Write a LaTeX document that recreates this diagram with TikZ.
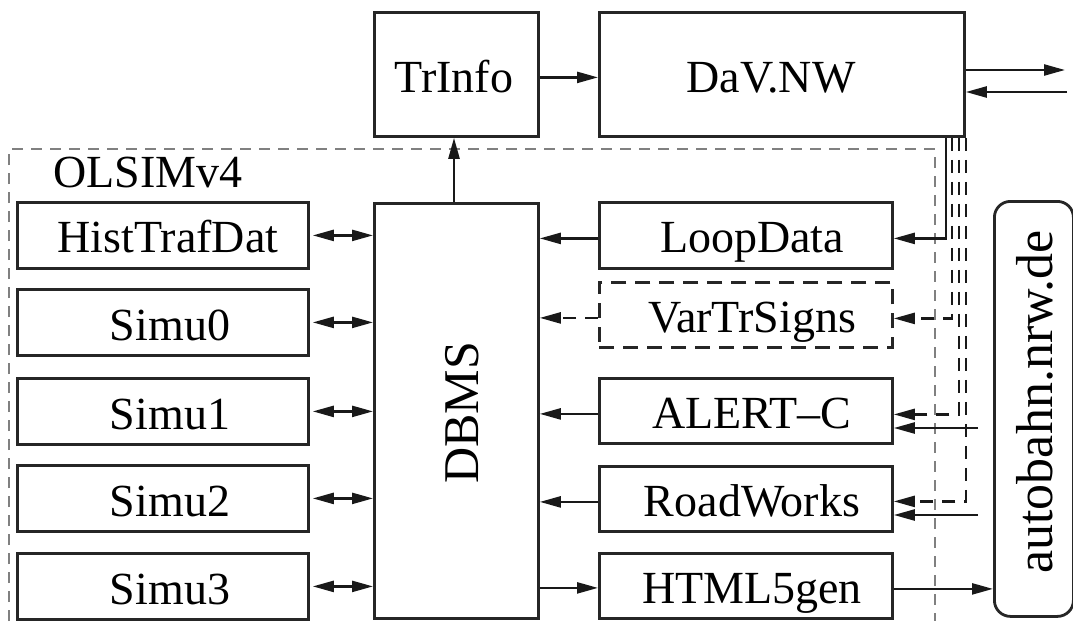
\documentclass[tikz,border=0pt]{standalone}
\usepackage{fontspec}
\setmainfont{Liberation Serif}
\usetikzlibrary{arrows.meta}
\begin{document}
\begin{tikzpicture}[x=1pt,y=-1pt,
  box/.style={draw=black!85, line width=2.8pt, inner sep=0pt, anchor=north west},
  txt/.style={inner sep=0pt, anchor=base, font=\fontsize{46}{50}\selectfont},
  tip/.tip={Triangle[length=21pt,width=11pt]},
  arr/.style={line width=2.4pt, draw=black!90, -tip},
  darr/.style={line width=2.4pt, draw=black!90, tip-tip},
  dline/.style={dash pattern=on 13pt off 9pt},
  frame/.style={draw=black!50, line width=2.2pt, dash pattern=on 11pt off 8pt}]
\useasboundingbox (0,0) rectangle (1073,621);

% system frame
\draw[frame] (9,621) -- (9,149) -- (935,149) -- (935,621);
\node[txt, anchor=base west] (olsim) at (53,187) {OLSIMv4};

% top row
\node[box, minimum width=164pt, minimum height=124pt] (trinfo) at (373,11) {};
\node[txt] (trinfoT) at (454,92) {TrInfo};
\node[box, minimum width=365pt, minimum height=124pt] (dav) at (598,11) {};
\node[txt] (davT) at (771,92) {DaV.NW};

% database
\node[box, minimum width=164pt, minimum height=415pt] (dbms) at (373,202) {};
\node[txt, rotate=90, font=\fontsize{50}{54}\selectfont] (dbmsT) at (478,413) {DBMS};

% simulation side
\node[box, minimum width=291pt, minimum height=66pt] (hist) at (16,201) {};
\node[txt] (histT) at (168,252) {HistTrafDat};
\node[box, minimum width=291pt, minimum height=66pt] (simu0) at (16,288) {};
\node[txt] (simu0T) at (170,340) {Simu0};
\node[box, minimum width=291pt, minimum height=66pt] (simu1) at (16,377) {};
\node[txt] (simu1T) at (170,429) {Simu1};
\node[box, minimum width=291pt, minimum height=66pt] (simu2) at (16,464) {};
\node[txt] (simu2T) at (170,516) {Simu2};
\node[box, minimum width=291pt, minimum height=66pt] (simu3) at (16,552) {};
\node[txt] (simu3T) at (170,604) {Simu3};

% data sources and outputs
\node[box, minimum width=293pt, minimum height=66pt] (loop) at (598,201) {};
\node[txt] (loopT) at (752,252) {LoopData};
\node[box, minimum width=293pt, minimum height=65pt, dash pattern=on 15pt off 9pt] (vts) at (598,281) {};
\node[txt] (vtsT) at (752,332) {VarTrSigns};
\node[box, minimum width=293pt, minimum height=65pt] (alert) at (598,377) {};
\node[txt] (alertT) at (752,428) {ALERT\textendash C};
\node[box, minimum width=293pt, minimum height=65pt] (road) at (598,465) {};
\node[txt] (roadT) at (752,516) {RoadWorks};
\node[box, minimum width=293pt, minimum height=65pt] (html) at (598,552) {};
\node[txt] (htmlT) at (752,603) {HTML5gen};

% web portal
\node[box, rounded corners=16pt, minimum width=79pt, minimum height=415pt] (auto) at (993,200) {};
\node[txt, rotate=90, font=\fontsize{52}{56}\selectfont] (autoT) at (1052,402) {autobahn.nrw.de};

% connections inside the system
\draw[arr] (dbms.north -| trinfoT) -- (trinfo.south -| trinfoT);
\draw[arr] ([yshift=-3pt]trinfo.east) -- ([yshift=-3pt]trinfo.east -| dav.west);
\foreach \s in {hist,simu0,simu1,simu2,simu3}
  \draw[darr] ([xshift=3pt]\s.east) -- (\s.east -| dbms.west);
\draw[arr] ([yshift=-3pt]loop.west) -- ([yshift=-3pt]loop.west -| dbms.east);
\draw[arr, dline] ([yshift=-3pt]vts.west) -- ([yshift=-3pt]vts.west -| dbms.east);
\draw[arr] ([yshift=-3pt]alert.west) -- ([yshift=-3pt]alert.west -| dbms.east);
\draw[arr] ([yshift=-3pt]road.west) -- ([yshift=-3pt]road.west -| dbms.east);
\draw[arr] ([yshift=-2pt]dbms.east |- html.west) -- ([yshift=-2pt]html.west);

% external links of DaV.NW
\coordinate (outEnd) at (1065,70);
\coordinate (inStart) at (1067,92);
\draw[arr] (dav.east |- outEnd) -- (outEnd);
\draw[arr] (inStart) -- (inStart -| dav.east);

% feeds from DaV.NW
\draw[arr] ([xshift=-20pt]dav.south east) |- ([yshift=-3pt]loop.east);
\draw[arr, dline] ([xshift=-14pt]dav.south east) |- ([yshift=-3.5pt]vts.east);
\draw[arr, dline] ([xshift=-7pt]dav.south east) |- ([yshift=-3.5pt]alert.east);
\draw[arr, dline] (dav.south east) |- ([yshift=-2.5pt]road.east);

% feeds from the portal
\coordinate (a1) at (978,428);
\coordinate (a2) at (978,515);
\draw[arr] (a1) -- (a1 -| alert.east);
\draw[arr] (a2) -- (a2 -| road.east);
\draw[arr] ([yshift=-3pt]html.east) -- ([yshift=-3pt]html.east -| auto.west);
\end{tikzpicture}
\end{document}
